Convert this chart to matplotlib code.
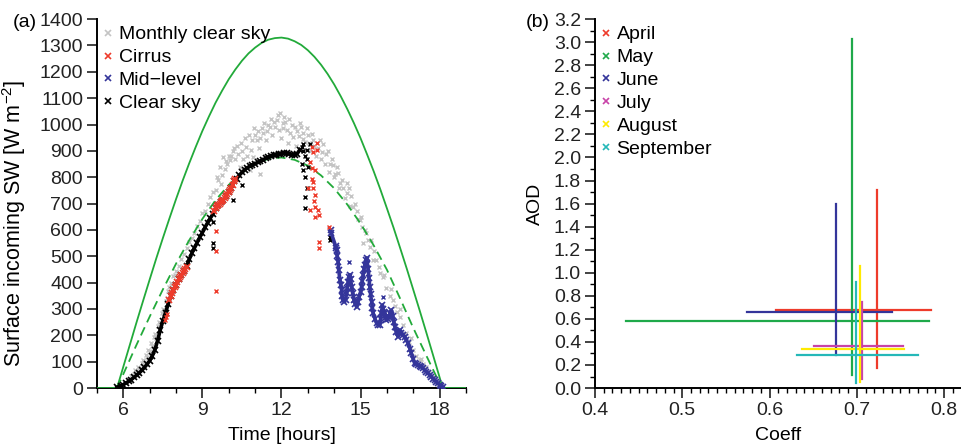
import matplotlib
matplotlib.use('Agg')
import matplotlib.pyplot as plt
from matplotlib.lines import Line2D
from matplotlib.ticker import MultipleLocator, FormatStrFormatter

plt.rcParams['font.family'] = ['Liberation Sans', 'DejaVu Sans']
plt.rcParams['font.size'] = 14
plt.rcParams['mathtext.fontset'] = 'custom'
plt.rcParams['mathtext.rm'] = 'Liberation Sans'

# ---- panel (a) data: hours / W m-2 ----
toa_t = [5.0, 5.76, 6.0, 6.25, 6.5, 6.75, 7.0, 7.25, 7.5, 7.75, 8.0, 8.25, 8.5, 8.75,
         9.0, 9.25, 9.5, 9.75, 10.0, 10.25, 10.5, 10.75, 11.0, 11.25, 11.5, 11.75,
         12.0, 12.25, 12.5, 12.75, 13.0, 13.25, 13.5, 13.75, 14.0, 14.25, 14.5, 14.75,
         15.0, 15.25, 15.5, 15.75, 16.0, 16.25, 16.5, 16.75, 17.0, 17.25, 17.5, 17.75,
         18.0, 18.12, 19.0]
toa_v = [0, 0, 81, 165, 249, 331, 412, 492, 569, 644, 717, 787, 853, 916,
         976, 1031, 1083, 1129, 1172, 1209, 1242, 1270, 1292, 1310, 1322, 1328,
         1330, 1326, 1316, 1302, 1282, 1257, 1227, 1192, 1152, 1107, 1058, 1005,
         948, 886, 822, 754, 682, 609, 532, 454, 373, 292, 209, 125,
         40, 0, 0]

model_t = [5.76, 6.0, 6.5, 7.0, 7.5, 8.0, 8.5, 9.0, 9.5, 10.0, 10.5, 11.0, 11.5, 12.0,
           12.5, 13.0, 13.5, 14.0, 14.5, 15.0, 15.5, 16.0, 16.5, 17.0, 17.5, 18.0, 18.12]
model_v = [0, 53, 164, 271, 374, 472, 561, 642, 713, 771, 817, 850, 870, 875,
           866, 844, 807, 758, 696, 624, 541, 449, 340, 228, 122, 18, 0]

# monthly clear sky (grey)
monthly_t = [5.85, 5.95, 6.05, 6.1, 6.2, 6.25, 6.3, 6.4, 6.45, 6.5, 6.55, 6.6, 6.7, 6.75,
             6.8, 6.85, 6.9, 6.95, 7.0, 7.05, 7.1, 7.15, 7.2, 7.25, 7.3, 7.35, 7.4, 7.45,
             7.5, 7.55, 7.6, 7.65, 7.7, 7.75, 7.8, 7.85, 7.9, 7.95, 8.0, 8.1, 8.2, 8.3,
             8.4, 8.5, 8.6, 8.7, 8.8, 8.9, 9.0, 9.1, 9.2, 9.29, 9.4, 9.5, 9.6, 9.67,
             9.75, 9.8, 9.9, 10.0, 10.05, 10.15, 10.25, 10.3, 10.43, 10.5, 10.6, 10.7,
             10.81, 10.9, 10.93, 11.0, 11.06, 11.15, 11.19, 11.25, 11.31, 11.4, 11.5,
             11.56, 11.65, 11.7, 11.82, 11.9, 11.94, 12.0, 12.07, 12.1, 12.2, 12.25,
             12.32, 12.4, 12.45, 12.55, 12.6, 12.7, 12.8, 12.83, 12.9, 13.0, 13.1, 13.2,
             13.3, 13.4, 13.5, 13.58, 13.65, 13.7, 13.8, 13.84, 13.9, 14.0, 14.02, 14.1,
             14.2, 14.21, 14.3, 14.4, 14.47, 14.55, 14.6, 14.72, 14.8, 14.9, 14.97,
             15.05, 15.1, 15.15, 15.22, 15.3, 15.35, 15.47, 15.5, 15.6, 15.7, 15.73,
             15.85, 15.98, 16.1, 16.23, 16.3, 16.4, 16.48, 16.6, 16.74, 16.85, 16.99,
             17.1, 17.24, 17.35, 17.49, 17.6, 17.74, 17.85, 17.95, 18.05,
             9.55, 9.7, 9.85, 9.95, 10.1, 10.2, 10.35, 10.45, 10.55, 10.65, 10.75, 10.85,
             10.95, 11.1, 11.2, 11.35, 11.45, 11.6, 11.75, 11.85, 12.05, 12.15, 12.3,
             12.5, 12.65, 12.75, 12.95, 13.05, 13.15, 13.25, 13.45, 13.55, 13.75, 13.95,
             14.15, 14.35, 14.5, 14.65, 14.85, 15.0, 15.4, 15.9, 16.15, 16.5, 16.9, 17.3]
monthly_v = [6, 12, 22, 18, 32, 30, 45, 55, 68, 62, 80, 75, 95, 108,
             98, 125, 118, 145, 140, 170, 160, 195, 205, 190, 235, 250, 240, 285,
             300, 295, 330, 340, 370, 385, 400, 395, 425, 430, 445, 465, 490, 510,
             530, 555, 570, 590, 615, 635, 665, 670, 700, 726, 745, 750, 790, 840,
             810, 877, 860, 880, 865, 900, 870, 920, 840, 900, 950, 880,
             827, 940, 877, 960, 941, 910, 814, 985, 966, 940, 1000,
             991, 960, 1010, 1017, 980, 1042, 950, 1004, 1029, 979, 930,
             966, 1000, 953, 920, 975, 1004, 945, 966, 935, 960, 900, 940,
             880, 910, 870, 928, 850, 890, 820, 852, 870, 800, 814, 840,
             760, 777, 790, 720, 739, 760, 690, 688, 700, 640, 637,
             610, 549, 600, 587, 560, 536, 486, 520, 486, 460, 435,
             420, 380, 350, 334, 310, 290, 270, 240, 207, 175, 144,
             120, 106, 92, 81, 60, 43, 28, 15, 6,
             800, 775, 830, 850, 880, 910, 890, 930, 870, 915, 960, 905,
             985, 975, 950, 1005, 975, 1020, 990, 1035, 985, 1010, 1020,
             990, 955, 990, 985, 930, 965, 920, 940, 895, 900, 845,
             815, 760, 780, 730, 670, 650, 560, 430, 375, 300, 190, 110]

# clear sky (black) main trace
clear_t = [5.76, 5.9, 6.0, 6.1, 6.2, 6.3, 6.4, 6.5, 6.6, 6.7, 6.8, 6.9, 7.0, 7.1, 7.2,
           7.3, 7.4, 7.5, 7.6, 7.7, 7.8, 7.9, 8.0, 8.1, 8.2, 8.3, 8.4, 8.5, 8.6, 8.7,
           8.8, 8.9, 9.0, 9.1, 9.2, 9.3, 9.4, 9.5, 9.6, 9.7, 9.8, 9.9, 10.0, 10.1, 10.2,
           10.3, 10.4, 10.5, 10.6, 10.7, 10.8, 10.9, 11.0, 11.1, 11.2, 11.3, 11.4, 11.5,
           11.6, 11.7, 11.8, 11.9, 12.0, 12.1, 12.2, 12.3, 12.4, 12.5, 12.6, 12.7]
clear_v = [3, 8, 13, 19, 25, 32, 40, 48, 57, 67, 78, 90, 104, 122, 146,
           180, 220, 255, 286, 318, 348, 372, 392, 412, 428, 443, 462, 488, 512, 532,
           552, 572, 590, 610, 628, 645, 660, 682, 696, 705, 715, 730, 745, 760, 785,
           795, 808, 818, 828, 836, 842, 848, 852, 856, 860, 866, 872, 876,
           880, 884, 886, 888, 890, 892, 891, 889, 886, 885, 890, 905]
# clear sky scattered points
clear_pts_t = [9.42, 9.42, 9.42, 10.11, 10.49, 10.17, 12.76, 12.83, 13.08, 12.95, 12.9,
               12.95, 12.76, 12.82, 12.88, 12.95, 12.89, 12.89, 13.84, 13.84, 13.0, 12.8]
clear_pts_v = [631, 549, 530, 770, 770, 713, 915, 927, 928, 905, 880,
               870, 852, 827, 800, 758, 726, 682, 561, 575, 840, 900]

# cirrus (red)
cirrus_am1_t = [7.75, 7.8, 7.85, 7.9, 7.95, 8.0, 8.05, 8.1, 8.15, 8.2, 8.25, 8.3, 8.35, 8.4]
cirrus_am1_v = [335, 348, 360, 372, 382, 392, 402, 412, 420, 428, 436, 443, 452, 460]
cirrus_am2_t = [9.45, 9.5, 9.55, 9.6, 9.65, 9.7, 9.75, 9.8, 9.85, 9.9, 9.95, 10.0, 10.05,
                10.1, 10.15, 10.2, 10.25]
cirrus_am2_v = [672, 682, 690, 696, 700, 705, 710, 715, 722, 730, 738, 745, 752,
                760, 772, 785, 792]
cirrus_pts_t = [7.59, 7.62, 7.64, 9.51, 9.51, 9.51, 13.35, 13.14, 13.20, 13.35, 13.08,
                13.14, 13.27, 13.14, 13.20, 13.01, 13.27, 13.27, 13.08, 13.40, 13.27,
                13.43, 13.81, 13.43, 13.43, 13.2, 13.25]
cirrus_pts_v = [258, 270, 280, 596, 521, 369, 931, 916, 894, 905, 859,
                834, 827, 795, 782, 758, 732, 688, 675, 675, 650,
                656, 610, 555, 530, 760, 710]

# mid-level (blue)
mid_t = [13.86, 13.88, 14.05, 14.07, 14.09, 14.12, 14.15, 14.17, 14.22, 14.25, 14.28,
         14.30, 14.33, 14.38, 14.43, 14.47, 14.50, 14.53, 14.56, 14.59, 14.62, 14.66,
         14.70, 14.75, 14.80, 14.85, 14.90, 14.95, 15.00, 15.04, 15.07, 15.10, 15.13,
         15.16, 15.20, 15.23, 15.26, 15.29, 15.32, 15.35, 15.38, 15.42, 15.45, 15.48,
         15.55, 15.61, 15.67, 15.73, 15.76, 15.79, 15.83, 15.86, 15.89, 15.92, 15.95,
         15.98, 16.03, 16.08, 16.13, 16.17, 16.22, 16.26, 16.30, 16.36, 16.42, 16.46,
         16.49, 16.55, 16.62, 16.68, 16.74, 16.80, 16.87, 16.93, 17.00, 17.05, 17.12,
         17.18, 17.25, 17.31, 17.37, 17.43, 17.50, 17.56, 17.62, 17.68, 17.75, 17.81,
         17.87, 17.93, 18.00, 18.06, 18.12]
mid_v = [598, 590, 540, 530, 523, 500, 478, 447, 410, 390, 372,
         350, 334, 328, 335, 359, 380, 404, 420, 430, 415, 385,
         360, 334, 318, 308, 325, 347, 365, 385, 408, 430, 450,
         468, 485, 494, 472, 450, 418, 385, 355, 328, 305, 284,
         262, 246, 240, 240, 262, 284, 315, 300, 290, 284, 270,
         258, 262, 271, 285, 296, 275, 252, 233, 214, 195, 208,
         220, 210, 200, 195, 182, 170, 150, 132, 110, 94, 90,
         87, 84, 81, 75, 68, 62, 56, 50, 43, 36, 30,
         24, 18, 12, 8, 4]
mid_pts_t = [14.57, 15.85]
mid_pts_v = [477, 346]

# ---- panel (b) data ----
months = ['April', 'May', 'June', 'July', 'August', 'September']
month_colors = ['#ee3b2b', '#1fa94a', '#34359a', '#c843a8', '#ffea00', '#25b8b8']
coeff = [0.723, 0.694, 0.676, 0.706, 0.7035, 0.699]
coeff_lo = [0.607, 0.436, 0.5745, 0.651, 0.637, 0.632]
coeff_hi = [0.785, 0.783, 0.740, 0.753, 0.754, 0.770]
aod = [0.675, 0.585, 0.657, 0.362, 0.336, 0.290]
aod_lo = [0.17, 0.115, 0.29, 0.078, 0.049, 0.043]
aod_hi = [1.72, 3.03, 1.60, 0.75, 1.055, 0.918]

GREY = '#c4c4c4'
RED = '#ee3b2b'
BLUE = '#34359a'
GREEN = '#22aa3a'

fig = plt.figure(figsize=(9.62, 4.45), dpi=100)
ax1 = fig.add_axes([0.1008, 0.128, 0.3836, 0.829])
ax2 = fig.add_axes([0.6185, 0.128, 0.381, 0.829])

mk = dict(marker='x', ms=3.5, mew=1.0)
mk_trace = dict(marker='x', ms=4.2, mew=1.2)

ax1.plot(monthly_t, monthly_v, ls='none', color=GREY, zorder=2, **mk)
ax1.plot(toa_t, toa_v, color=GREEN, lw=1.3, zorder=3)
ax1.plot(model_t, model_v, color=GREEN, lw=1.3, dashes=(5, 3), zorder=3)
ax1.plot(clear_t, clear_v, color='k', lw=2.6, zorder=4, **mk_trace)
ax1.plot(clear_pts_t, clear_pts_v, ls='none', color='k', zorder=4, **mk)
ax1.plot(mid_t, mid_v, color=BLUE, lw=2.6, zorder=4, **mk_trace)
ax1.plot(mid_pts_t, mid_pts_v, ls='none', color=BLUE, zorder=4, **mk)
ax1.plot(cirrus_am1_t, cirrus_am1_v, color=RED, lw=2.8, zorder=5, **mk_trace)
ax1.plot(cirrus_am2_t, cirrus_am2_v, color=RED, lw=2.8, zorder=5, **mk_trace)
ax1.plot(cirrus_pts_t, cirrus_pts_v, ls='none', color=RED, zorder=5, **mk)

ax1.set_xlim(5, 19)
ax1.set_ylim(0, 1400)
ax1.xaxis.set_major_locator(MultipleLocator(3))
ax1.xaxis.set_minor_locator(MultipleLocator(1))
ax1.yaxis.set_major_locator(MultipleLocator(100))
ax1.set_xticks([6, 9, 12, 15, 18])
ax1.set_xlabel('Time [hours]')
ax1.set_ylabel(r'Surface incoming SW [W m$^{\mathregular{-2}}$]', fontsize=15.5)
ax1.yaxis.set_label_coords(-0.188, 0.447)
ax1.xaxis.set_label_coords(0.5, -0.106)

leg_a = [Line2D([], [], ls='none', color=c, marker='x', ms=4, mew=1.2)
         for c in [GREY, RED, BLUE, 'k']]
ax1.legend(leg_a, ['Monthly clear sky', 'Cirrus', 'Mid\u2212level', 'Clear sky'],
           loc='upper left', bbox_to_anchor=(0.011, 0.987), frameon=False,
           handlelength=0.5, handletextpad=0.3, labelspacing=0.27,
           borderaxespad=0, borderpad=0.1, fontsize=14)

for i in range(len(months)):
    ax2.plot([coeff_lo[i], coeff_hi[i]], [aod[i], aod[i]], color=month_colors[i], lw=1.6)
    ax2.plot([coeff[i], coeff[i]], [aod_lo[i], aod_hi[i]], color=month_colors[i], lw=1.6)

ax2.set_xlim(0.4, 0.82)
ax2.set_ylim(0, 3.2)
ax2.xaxis.set_major_locator(MultipleLocator(0.1))
ax2.xaxis.set_minor_locator(MultipleLocator(0.01))
ax2.yaxis.set_major_locator(MultipleLocator(0.2))
ax2.yaxis.set_minor_locator(MultipleLocator(0.1))
ax2.xaxis.set_major_formatter(FormatStrFormatter('%.1f'))
ax2.yaxis.set_major_formatter(FormatStrFormatter('%.1f'))
ax2.set_xlabel('Coeff')
ax2.set_ylabel('AOD')
ax2.yaxis.set_label_coords(-0.139, 0.5)
ax2.xaxis.set_label_coords(0.5, -0.106)

leg_b = [Line2D([], [], ls='none', color=c, marker='x', ms=4, mew=1.2)
         for c in month_colors]
ax2.legend(leg_b, months, loc='upper left', bbox_to_anchor=(0.011, 0.987), frameon=False,
           handlelength=0.5, handletextpad=0.3, labelspacing=0.27,
           borderaxespad=0, borderpad=0.1, fontsize=14)

for ax in (ax1, ax2):
    ax.spines['top'].set_visible(False)
    ax.spines['right'].set_visible(False)
    ax.spines['left'].set_linewidth(1.4)
    ax.spines['bottom'].set_linewidth(1.4)
    ax.tick_params(which='major', direction='out', length=7, width=1.2, pad=3,
                   labelsize=14, colors='#222222')
    ax.tick_params(which='minor', direction='out', length=3.5, width=1.0)
    ax.xaxis.label.set_size(14)

ax1.yaxis.label.set_size(15.5)
ax2.yaxis.label.set_size(14)

fig.text(0.0135, 0.949, '(a)', fontsize=14, va='center')
fig.text(0.546, 0.949, '(b)', fontsize=14, va='center')

fig.savefig('out.png', dpi=100)
